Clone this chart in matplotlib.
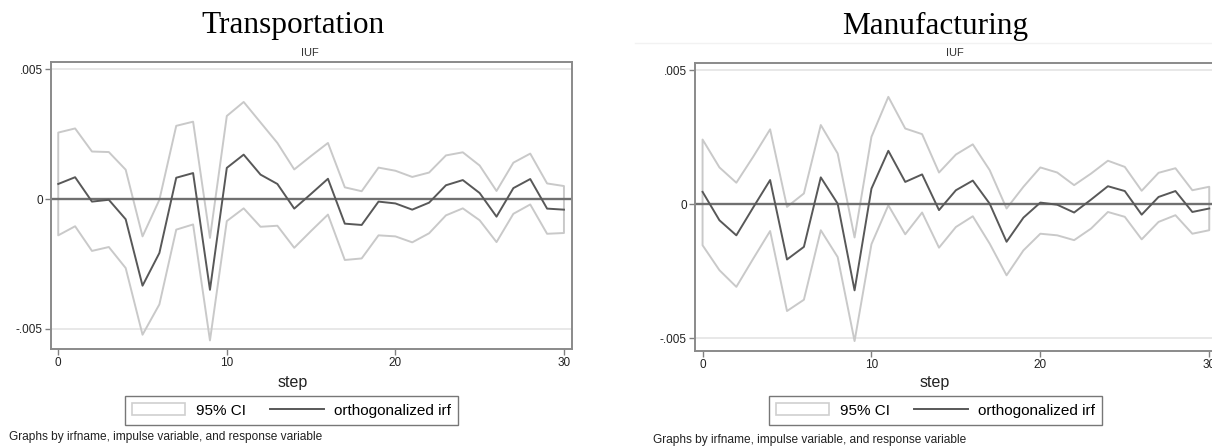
import matplotlib
matplotlib.use("Agg")
import matplotlib.pyplot as plt
from matplotlib.patches import Patch
from matplotlib.lines import Line2D

plt.rcParams["font.family"] = ["Liberation Sans", "DejaVu Sans"]

# data
steps = list(range(31))

trans_irf = [0.00058, 0.00084, -0.0001, -0.00003, -0.00078, -0.00334, -0.00208, 0.00082, 0.0010, -0.0035,
             0.0012, 0.00171, 0.00094, 0.00058, -0.00037, 0.0002, 0.00078, -0.00095, -0.0010, -0.0001,
             -0.00017, -0.00041, -0.00014, 0.00053, 0.00073, 0.00023, -0.00068, 0.00042, 0.00077, -0.00037,
             -0.00041]
trans_upper = [0.00256, 0.00272, 0.00183, 0.00181, 0.00113, -0.00144, -0.00003, 0.00282, 0.00298, -0.0015,
               0.0032, 0.00374, 0.00295, 0.00216, 0.00114, 0.00166, 0.00216, 0.00045, 0.0003, 0.00121,
               0.00109, 0.00085, 0.00102, 0.00168, 0.0018, 0.00129, 0.00031, 0.0014, 0.00175, 0.0006,
               0.0005]
trans_lower = [-0.0014, -0.00105, -0.002, -0.00185, -0.00266, -0.00523, -0.00406, -0.00118, -0.00098, -0.00545,
               -0.00085, -0.00036, -0.00107, -0.00103, -0.00188, -0.00123, -0.0006, -0.00235, -0.00229, -0.0014,
               -0.00144, -0.00167, -0.00132, -0.00063, -0.00036, -0.00082, -0.00166, -0.00057, -0.00021, -0.00134,
               -0.00131]

manu_irf = [0.00046, -0.0006, -0.00116, -0.00012, 0.0009, -0.00206, -0.00159, 0.001, 0.00002, -0.00321,
            0.00058, 0.00199, 0.00083, 0.00111, -0.00022, 0.00052, 0.00088, 0.00002, -0.0014, -0.0005,
            0.00006, -0.00002, -0.00031, 0.00017, 0.00067, 0.00049, -0.00039, 0.00027, 0.00049, -0.00029,
            -0.00016]
manu_upper = [0.00241, 0.00137, 0.0008, 0.00177, 0.00279, -0.0001, 0.0004, 0.00295, 0.00189, -0.00124,
              0.00251, 0.004, 0.00282, 0.00261, 0.00118, 0.00185, 0.00223, 0.00127, -0.00016, 0.00065,
              0.00137, 0.00118, 0.00071, 0.00114, 0.00162, 0.00139, 0.0005, 0.00117, 0.00134, 0.00052,
              0.00065]
manu_lower = [-0.00153, -0.00246, -0.00308, -0.00203, -0.001, -0.00398, -0.00356, -0.00097, -0.00197, -0.0051,
              -0.00149, -0.00004, -0.00112, -0.00031, -0.00162, -0.00085, -0.00045, -0.00147, -0.00265, -0.00172,
              -0.0011, -0.00116, -0.00134, -0.00091, -0.00029, -0.00047, -0.00131, -0.00066, -0.00041, -0.0011,
              -0.00097]

y_ticks = [-0.005, 0, 0.005]
y_labels = ["-.005", "0", ".005"]
x_ticks = [0, 10, 20, 30]

W, H = 1212, 446
fig = plt.figure(figsize=(W / 100, H / 100), dpi=100)


def px(x0, y0, x1, y1):
    # pixel box -> figure fraction rect
    return [x0 / W, 1 - y1 / H, (x1 - x0) / W, (y1 - y0) / H]


def irf_panel(rect, title, title_x, irf, upper, lower, ylim, legend_center, foot_x, foot_y, iuf_x):
    ax = fig.add_axes(rect)
    ax.set_xlim(-0.43, 30.46)
    ax.set_ylim(*ylim)

    # light grid at the y ticks
    for t in [-0.005, 0.005]:
        ax.axhline(t, color="#e6e6e6", lw=1.3, zorder=0)

    ax.fill_between(steps, lower, upper, facecolor="none", edgecolor="#c9c9c9", lw=1.4, zorder=1)
    ax.axhline(0, color="#707070", lw=1.7, zorder=2)
    ax.plot(steps, irf, color="#585858", lw=1.4, zorder=3)

    ax.set_yticks(y_ticks)
    ax.set_yticklabels(y_labels)
    ax.set_xticks(x_ticks)
    ax.tick_params(axis="both", length=4, width=1, color="#808080", labelsize=8.5, labelcolor="#222222", pad=2)
    for s in ax.spines.values():
        s.set_color("#8a8a8a")
        s.set_linewidth(1.4)

    fig.text(title_x / W, 1 - 26 / H, title, ha="center", va="center",
             family="Liberation Serif", fontsize=22.5)
    fig.text(iuf_x / W, 1 - 53 / H, "IUF", ha="center", va="center", fontsize=8, color="#333333")
    fig.text(title_x / W, 1 - 383 / H, "step", ha="center", va="center", fontsize=11.5, color="#222222")

    handles = [Patch(facecolor="white", edgecolor="#cfcfcf", lw=1.2, label="95% CI"),
               Line2D([], [], color="#585858", lw=1.4, label="orthogonalized irf")]
    fig.legend(handles=handles, loc="center", bbox_to_anchor=(legend_center / W, 1 - 410.5 / H),
               ncol=2, fontsize=11, frameon=True, fancybox=False, edgecolor="#555555",
               handlelength=3.5, handleheight=0.85, handletextpad=0.7, columnspacing=1.6,
               borderpad=0.45).get_frame().set_linewidth(1.0)

    fig.text(foot_x / W, 1 - foot_y / H, "Graphs by irfname, impulse variable, and response variable",
             ha="left", va="center", fontsize=8.6, color="#222222")
    return ax


irf_panel(px(51, 62, 571.7, 349), "Transportation", 293, trans_irf, trans_upper, trans_lower,
          (-0.00578, 0.00528), 291.5, 9, 437, 310)
irf_panel(px(695.3, 63.3, 1217, 351), "Manufacturing", 935, manu_irf, manu_upper, manu_lower,
          (-0.00547, 0.00525), 935.5, 653, 440, 955)

# faint border line of the second graph image
fig.add_artist(Line2D([635 / W, 1.0], [1 - 43 / H, 1 - 43 / H], color="#f2f2f2", lw=1))

fig.savefig("out.png", dpi=100)
